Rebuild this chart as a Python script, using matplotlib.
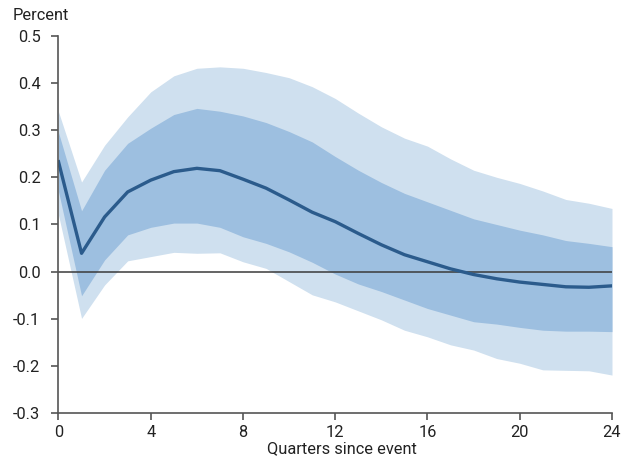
import numpy as np
import matplotlib
matplotlib.use("Agg")
import matplotlib.pyplot as plt

plt.rcParams["font.family"] = ["Roboto", "DejaVu Sans"]

quarters = np.arange(0, 25)
response = [0.233, 0.039, 0.116, 0.169, 0.194, 0.212, 0.219, 0.214, 0.196, 0.177,
            0.152, 0.126, 0.106, 0.081, 0.057, 0.036, 0.021, 0.006, -0.006, -0.015,
            -0.022, -0.027, -0.032, -0.033, -0.030]
inner_hi = [0.295, 0.129, 0.215, 0.272, 0.304, 0.333, 0.346, 0.340, 0.330, 0.316,
            0.297, 0.275, 0.244, 0.215, 0.189, 0.166, 0.148, 0.130, 0.112, 0.100,
            0.088, 0.078, 0.066, 0.060, 0.053]
inner_lo = [0.170, -0.051, 0.025, 0.078, 0.094, 0.103, 0.103, 0.094, 0.074, 0.060,
            0.042, 0.020, -0.005, -0.026, -0.042, -0.060, -0.078, -0.092, -0.106, -0.111,
            -0.118, -0.124, -0.126, -0.126, -0.127]
outer_hi = [0.339, 0.190, 0.268, 0.328, 0.381, 0.415, 0.431, 0.434, 0.431, 0.422,
            0.411, 0.392, 0.367, 0.336, 0.307, 0.283, 0.266, 0.239, 0.215, 0.200,
            0.187, 0.171, 0.153, 0.145, 0.134]
outer_lo = [0.120, -0.099, -0.028, 0.023, 0.032, 0.041, 0.039, 0.040, 0.021, 0.007,
            -0.021, -0.049, -0.064, -0.083, -0.102, -0.124, -0.138, -0.155, -0.166, -0.184,
            -0.194, -0.208, -0.209, -0.210, -0.219]

fig = plt.figure(figsize=(6.21, 4.59), dpi=100)
ax = fig.add_axes([0.0942, 0.0996, 0.8913, 0.8226])

ax.fill_between(quarters, outer_lo, outer_hi, color="#cfe0ef", lw=0)
ax.fill_between(quarters, inner_lo, inner_hi, color="#9dbfe0", lw=0)
ax.axhline(0, color="#3a3a3a", lw=1.1)
ax.plot(quarters, response, color="#2b5b8c", lw=2.4, solid_joinstyle="round")

ax.set_xlim(0, 24)
ax.set_ylim(-0.3, 0.5)
ax.set_xticks(np.arange(0, 25, 4))
ax.set_yticks(np.arange(-0.3, 0.51, 0.1))
ax.set_yticklabels(["{:.1f}".format(v) for v in np.arange(-0.3, 0.51, 0.1)])
for s in ["top", "right"]:
    ax.spines[s].set_visible(False)
for s in ["left", "bottom"]:
    ax.spines[s].set_color("#555555")
    ax.spines[s].set_linewidth(1.2)
ax.tick_params(axis="both", direction="out", length=5, width=1.2, color="#555555",
               labelsize=11.8, labelcolor="#222222")
ax.tick_params(axis="y", pad=8)
ax.set_xlabel("Quarters since event", fontsize=11.8, color="#222222")
ax.xaxis.set_label_coords(0.512, -0.073)
fig.text(0.021, 0.956, "Percent", fontsize=11.8, color="#222222", ha="left", va="baseline")

fig.savefig("out.png", dpi=100)
